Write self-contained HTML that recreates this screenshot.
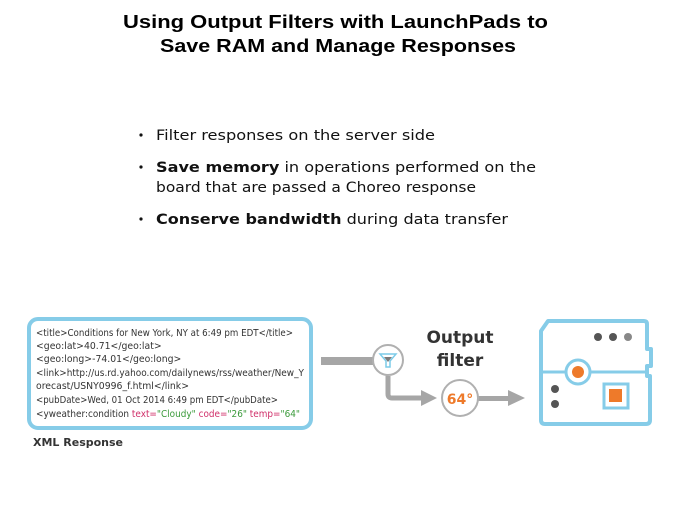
<!DOCTYPE html>
<html><head><meta charset="utf-8"><style>
html,body{margin:0;padding:0;background:#fff;}
svg{display:block;}
</style></head><body>
<svg width="674" height="506" viewBox="0 0 674 506" xmlns="http://www.w3.org/2000/svg">
<g font-family="Liberation Sans, sans-serif" font-weight="bold" font-size="18" fill="#000">
<text x="123" y="28" textLength="425" lengthAdjust="spacingAndGlyphs">Using Output Filters with LaunchPads to</text>
<text x="160" y="52" textLength="356" lengthAdjust="spacingAndGlyphs">Save RAM and Manage Responses</text>
</g>
<g font-family="DejaVu Sans, Verdana, sans-serif" font-size="14.5" fill="#111">
<circle cx="141" cy="135" r="1.6"/>
<circle cx="141" cy="167" r="1.6"/>
<circle cx="141" cy="219" r="1.6"/>
<text x="156" y="140" textLength="279" lengthAdjust="spacingAndGlyphs">Filter responses on the server side</text>
<text x="156" y="172" textLength="380" lengthAdjust="spacingAndGlyphs"><tspan font-weight="bold">Save memory</tspan>  in operations performed on the</text>
<text x="156" y="192" textLength="320" lengthAdjust="spacingAndGlyphs">board that are passed a Choreo response</text>
<text x="156" y="224" textLength="352" lengthAdjust="spacingAndGlyphs"><tspan font-weight="bold">Conserve bandwidth</tspan>  during data transfer</text>
</g>
<rect x="29" y="319" width="282" height="109" rx="9" fill="#fff" stroke="#86cce8" stroke-width="4"/>
<g font-family="DejaVu Sans, sans-serif" font-size="9.3" fill="#333">
<text x="36" y="336" textLength="257" lengthAdjust="spacingAndGlyphs">&lt;title&gt;Conditions for New York, NY at 6:49 pm EDT&lt;/title&gt;</text>
<text x="36" y="349">&lt;geo:lat&gt;40.71&lt;/geo:lat&gt;</text>
<text x="36" y="362">&lt;geo:long&gt;-74.01&lt;/geo:long&gt;</text>
<text x="36" y="376" textLength="268" lengthAdjust="spacingAndGlyphs">&lt;link&gt;http://us.rd.yahoo.com/dailynews/rss/weather/New_Y</text>
<text x="36" y="389">orecast/USNY0996_f.html&lt;/link&gt;</text>
<text x="36" y="403" textLength="242" lengthAdjust="spacingAndGlyphs">&lt;pubDate&gt;Wed, 01 Oct 2014 6:49 pm EDT&lt;/pubDate&gt;</text>
<text x="36" y="417" textLength="264" lengthAdjust="spacingAndGlyphs">&lt;yweather:condition  <tspan fill="#d0306a">text=</tspan><tspan fill="#3a9a3a">"Cloudy"</tspan>  <tspan fill="#d0306a">code=</tspan><tspan fill="#3a9a3a">"26"</tspan>  <tspan fill="#d0306a">temp=</tspan><tspan fill="#3a9a3a">"64"</tspan></text>
</g>
<text x="33" y="446" font-family="DejaVu Sans, sans-serif" font-weight="bold" font-size="11" fill="#333">XML Response</text>
<!-- connectors -->
<rect x="321" y="357" width="52" height="8" fill="#a6a6a6"/>
<path d="M388 376 V394 Q388 398 392 398 H424" fill="none" stroke="#a6a6a6" stroke-width="5"/>
<polygon points="421,390 437,398 421,406" fill="#a6a6a6"/>
<circle cx="388" cy="360" r="15" fill="#fff" stroke="#b0b0b0" stroke-width="2"/>
<path d="M380 354 H396 L390 361 V367 H386 V361 Z" fill="none" stroke="#7ccbe8" stroke-width="1.5"/>
<path d="M384 357 H392 L388 362 Z" fill="#7a7a7a"/>
<rect x="476" y="396" width="34" height="5" fill="#a6a6a6"/>
<polygon points="508,390 525,398 508,406" fill="#a6a6a6"/>
<circle cx="460" cy="398" r="18" fill="#fff" stroke="#b0b0b0" stroke-width="2"/>
<text x="460" y="404" text-anchor="middle" font-family="DejaVu Sans, sans-serif" font-weight="bold" font-size="14" fill="#ee7a2a">64°</text>
<g font-family="DejaVu Sans, sans-serif" font-weight="bold" font-size="17" fill="#333" text-anchor="middle">
<text x="460" y="343">Output</text>
<text x="460" y="366">filter</text>
</g>
<!-- board -->
<path d="M541 331 L548 321 H644 Q647 321 647 324 V349 H651 V366 H647 V376 H650 V420 Q650 424 646 424 H545 Q541 424 541 420 Z" fill="#fff" stroke="#86cce8" stroke-width="4" stroke-linejoin="round"/>
<line x1="541" y1="372" x2="648" y2="372" stroke="#86cce8" stroke-width="3"/>
<circle cx="578" cy="372" r="12" fill="#fff" stroke="#86cce8" stroke-width="3"/>
<circle cx="578" cy="372" r="6" fill="#ee7a2a"/>
<circle cx="598" cy="337" r="4" fill="#555"/>
<circle cx="613" cy="337" r="4" fill="#555"/>
<circle cx="628" cy="337" r="4" fill="#888"/>
<circle cx="555" cy="389" r="4" fill="#555"/>
<circle cx="555" cy="404" r="4" fill="#555"/>
<rect x="604" y="384" width="24" height="24" fill="#fff" stroke="#86cce8" stroke-width="3"/>
<rect x="609" y="389" width="13" height="13" fill="#ee7a2a"/>
</svg>
</body></html>
